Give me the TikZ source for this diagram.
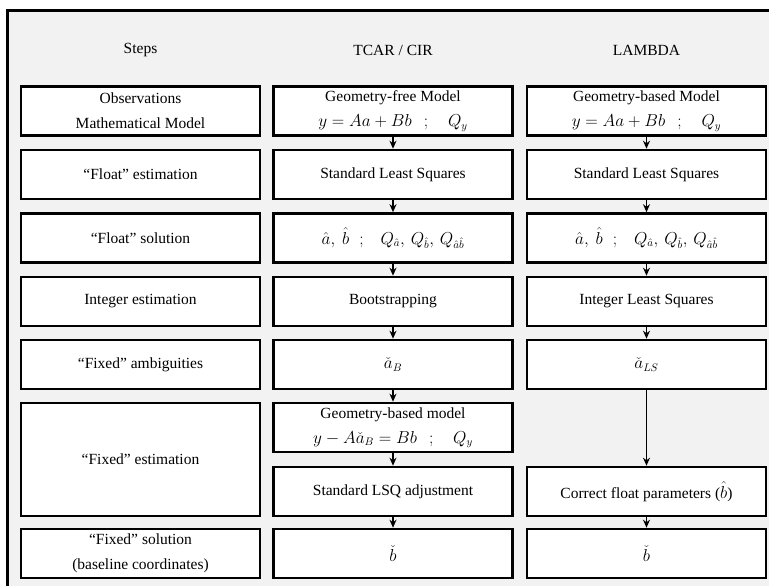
\documentclass[tikz,border=0pt]{standalone}
\usepackage{fontspec}
\setmainfont{Liberation Serif}
\usetikzlibrary{arrows.meta}
\definecolor{bgc}{RGB}{242,242,242}
\newcommand{\mth}[1]{{\fontsize{16}{25}\selectfont$#1$}}
\begin{document}
\begin{tikzpicture}[x=1pt,y=-1pt,
  box/.style={draw=black, line width=2.6pt, fill=white, minimum width=239pt, minimum height=49pt, inner sep=0pt, align=center, font=\fontsize{15.5}{25}\selectfont},
  hdr/.style={font=\fontsize{15.5}{25}\selectfont},
  arr/.style={line width=1.6pt, -{Stealth[length=8pt,width=7pt]}}
]
\useasboundingbox (0,0) rectangle (769,586);
\begin{scope}
\clip (0,0) rectangle (769,586);
\draw[line width=3pt, fill=bgc] (7,11) rectangle (800,620);
\end{scope}
% headers
\node[hdr] (h1) at (140.5,50) {Steps};
\node[hdr] (h2) at (393,50) {TCAR / CIR};
\node[hdr] (h3) at (646.5,50) {LAMBDA};
% column 1
\node[box] (s1) at (140.5,111) {Observations\\Mathematical Model};
\node[box] (s2) at (140.5,174.5) {“Float” estimation};
\node[box] (s3) at (140.5,238) {“Float” solution};
\node[box] (s4) at (140.5,301.5) {Integer estimation};
\node[box] (s5) at (140.5,364.5) {“Fixed” ambiguities};
\node[box, minimum height=113pt] (s6) at (140.5,459.5) {“Fixed” estimation};
\node[box] (s8) at (140.5,553.5) {“Fixed” solution\\(baseline coordinates)};
% column 2
\node[box] (t1) at (393,111) {Geometry-free Model\\\mth{y = Aa + Bb\hspace{12pt};\hspace{17pt}Q_y}};
\node[box] (t2) at (393,174.5) {Standard Least Squares};
\node[box] (t3) at (393,238) {\mth{\hat a,\hspace{4pt}\hat b\hspace{10pt};\hspace{14pt}Q_{\hat a},\hspace{3pt}Q_{\hat b},\hspace{3pt}Q_{\hat a\hat b}}};
\node[box] (t4) at (393,301.5) {Bootstrapping};
\node[box] (t5) at (393,364.5) {\mth{\check{a}_B}};
\node[box] (t6) at (393,427.5) {Geometry-based model\\\mth{y - A\check{a}_B = Bb\hspace{12pt};\hspace{17pt}Q_y}};
\node[box] (t7) at (393,491.5) {Standard LSQ adjustment};
\node[box] (t8) at (393,553.5) {\mth{\check b}};
% column 3
\node[box] (l1) at (646.5,111) {Geometry-based Model\\\mth{y = Aa + Bb\hspace{12pt};\hspace{17pt}Q_y}};
\node[box] (l2) at (646.5,174.5) {Standard Least Squares};
\node[box] (l3) at (646.5,238) {\mth{\hat a,\hspace{4pt}\hat b\hspace{10pt};\hspace{14pt}Q_{\hat a},\hspace{3pt}Q_{\hat b},\hspace{3pt}Q_{\hat a\hat b}}};
\node[box] (l4) at (646.5,301.5) {Integer Least Squares};
\node[box] (l5) at (646.5,364.5) {\mth{\check{a}_{LS}}};
\node[box] (l7) at (646.5,491.5) {Correct float parameters (\mth{\hat b})};
\node[box] (l8) at (646.5,553.5) {\mth{\check b}};
% arrows
\foreach \a/\b in {t1/t2,t2/t3,t3/t4,t4/t5,t5/t6,t6/t7,t7/t8,l1/l2,l2/l3,l3/l4,l4/l5,l5/l7,l7/l8}
  \draw[arr] (\a.south) -- (\b.north);
\end{tikzpicture}
\end{document}
